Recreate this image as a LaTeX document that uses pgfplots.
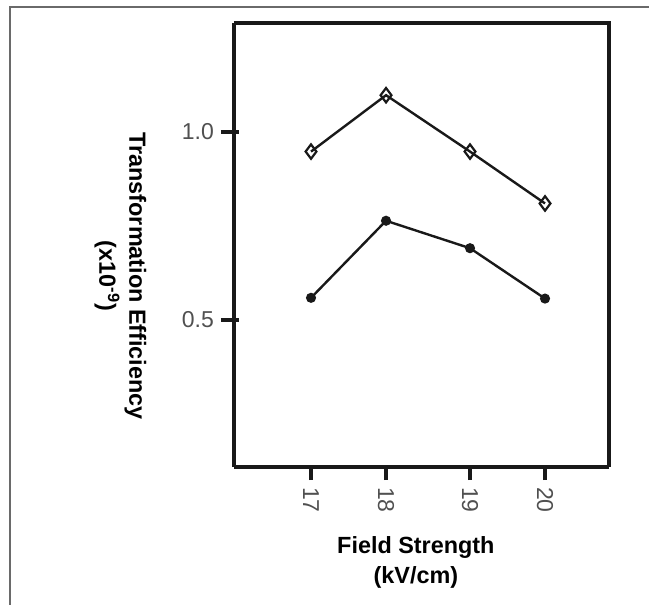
\documentclass[border=0pt]{standalone}
\usepackage{pgfplots}
\pgfplotsset{compat=1.18}
\usepackage{fontspec}
\setmainfont{Liberation Sans}
\definecolor{ticktext}{HTML}{505050}
\definecolor{framegray}{HTML}{6A6A6A}

\begin{document}
\begin{tikzpicture}
% page: 649x605 px, 1 px = 0.5pt, origin top left
\useasboundingbox (0,0) rectangle (324.5pt,-302.5pt);
\draw[framegray, line width=0.8pt] (5pt,-310pt) -- (5pt,-3.5pt) -- (330pt,-3.5pt);

\begin{axis}[
    at={(117pt,-233.5pt)}, anchor=south west,
    scale only axis, width=187.5pt, height=222pt,
    xmin=15.973, xmax=20.973, ymin=0.109, ymax=1.29,
    axis line style={line width=1.6pt, black!90},
    axis x line*=bottom, axis y line*=left,
    tick align=outside, major tick length=6.5pt,
    tick style={line width=1.6pt, black!90},
    xtick={17,18,19.12,20.12}, xticklabels={17,18,19,20},
    ytick={0.5,1.0}, yticklabels={0.5,1.0},
    ticklabel style={font=\fontsize{11.5}{13}\selectfont, text=ticktext},
    xticklabel style={rotate=-90, anchor=west},
    xlabel={Field Strength\\(kV/cm)},
    xlabel style={font=\bfseries\fontsize{11.7}{15}\selectfont, align=center,
                  at={(axis description cs:0.485,-0.214)}, anchor=center},
    ylabel={Transformation Efficiency\\(x10\textsuperscript{-9})},
    ylabel style={font=\bfseries\fontsize{11.7}{15}\selectfont, align=center,
                  rotate=180, at={(axis description cs:-0.303,0.430)}, anchor=center},
    clip=false,
]
% top and right sides of the frame
\draw[line width=1.6pt, black!90] (rel axis cs:0,1) -- (rel axis cs:1,1) -- (rel axis cs:1,0);
% short inward parts of the y ticks
\draw[line width=1.6pt, black!90]
    (axis cs:15.973,0.5) -- ++(2.5pt,0pt) (axis cs:15.973,1.0) -- ++(2.5pt,0pt);

\addplot[black!90, line width=1.2pt, mark=diamond, mark size=3.6pt,
    mark options={fill=white, line width=1.1pt}]
    coordinates {(17,0.948) (18,1.098) (19.12,0.948) (20.12,0.810)};

\addplot[black!90, line width=1.2pt, mark=*, mark size=1.9pt]
    coordinates {(17,0.559) (18,0.764) (19.12,0.691) (20.12,0.557)};
\end{axis}
\end{tikzpicture}
\end{document}
